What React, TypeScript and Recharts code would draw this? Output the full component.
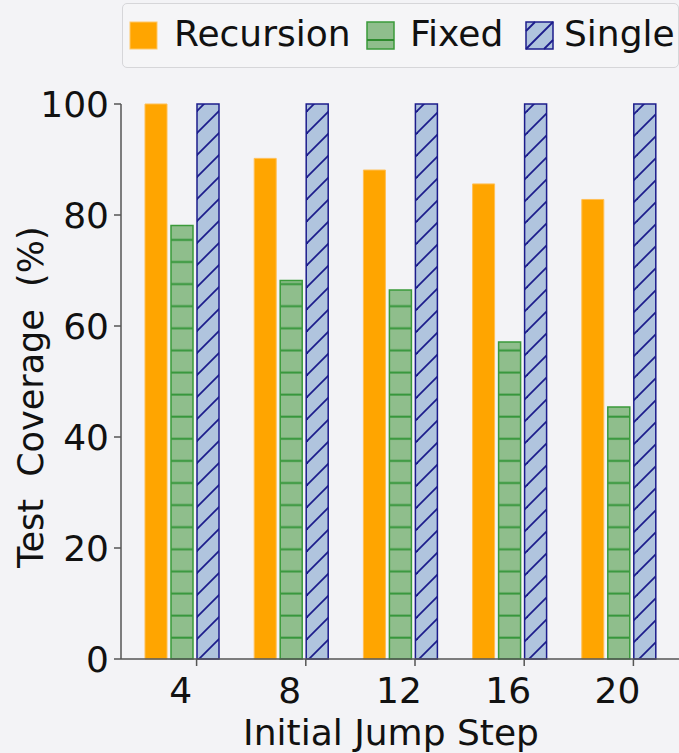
import { Bar, BarChart, XAxis, YAxis } from "recharts"

const steps = ["4", "8", "12", "16", "20"]
const recursion = [100, 90.2, 88.1, 85.6, 82.8]
const fixed = [78.1, 68.2, 66.5, 57.1, 45.4]
const single = [100, 100, 100, 100, 100]
const yTicks = [0, 20, 40, 60, 80, 100]

const data = steps.map((s, i) => ({
    step: s,
    Recursion: recursion[i],
    Fixed: fixed[i],
    Single: single[i],
}))

const font = "'DejaVu Sans', sans-serif"

function StepTick(props: any) {
    const { x, y, payload } = props
    return (
        <g>
            <line x1={x + 15} x2={x + 15} y1={y - 9} y2={y - 2} stroke="#555" strokeWidth={1.5} />
            <text x={x - 1} y={y} dy={35} textAnchor="middle" fontSize={36} fontFamily={font} fill="#111">
                {payload.value}
            </text>
        </g>
    )
}

function Swatch({ kind }: { kind: string }) {
    if (kind === "Recursion") {
        return (
            <svg width={29} height={29} style={{ display: "block" }}>
                <rect x={1} y={1} width={27} height={27} fill="#ffa500" stroke="#ffc766" />
            </svg>
        )
    }
    if (kind === "Fixed") {
        return (
            <svg width={29} height={29} style={{ display: "block" }}>
                <rect x={1} y={1} width={27} height={27} fill="#8fbe8c" stroke="#3a9a3a" strokeWidth={1.5} />
                <line x1={1} x2={28} y1={19} y2={19} stroke="#2e8b2e" strokeWidth={2} />
            </svg>
        )
    }
    return (
        <svg width={29} height={29} style={{ display: "block" }}>
            <rect x={1} y={1} width={27} height={27} fill="#b0c4de" stroke="#1c1c8c" strokeWidth={1.5} />
            <line x1={1} y1={28} x2={28} y2={1} stroke="#1c1c8c" strokeWidth={1.8} />
            <line x1={1} y1={10} x2={10} y2={1} stroke="#1c1c8c" strokeWidth={1.8} />
            <line x1={19} y1={28} x2={28} y2={19} stroke="#1c1c8c" strokeWidth={1.8} />
        </svg>
    )
}

const legendItems = [
    { name: "Recursion", swatchX: 129, textX: 174 },
    { name: "Fixed", swatchX: 366, textX: 410 },
    { name: "Single", swatchX: 525, textX: 564 },
]

export default function App() {
    return (
        <div style={{ position: "absolute", left: 0, top: 0, width: 679, height: 753, background: "#f3f3f6", fontFamily: font }}>
            <BarChart
                width={679}
                height={753}
                data={data}
                margin={{ top: 104, right: 0, bottom: 0, left: 0 }}
                barSize={22}
                barGap={4}
            >
                <defs>
                    <pattern id="hatchGreen" patternUnits="userSpaceOnUse" width={10} height={22.1}>
                        <rect width={10} height={22.1} fill="#8fbe8c" />
                        <line x1={0} x2={10} y1={18.9} y2={18.9} stroke="#35963a" strokeWidth={2} />
                    </pattern>
                    <pattern id="hatchBlue" patternUnits="userSpaceOnUse" width={22} height={22}>
                        <rect width={22} height={22} fill="#b0c4de" />
                        <line x1={0} y1={22} x2={22} y2={0} stroke="#1c1c8c" strokeWidth={1.8} />
                        <line x1={-2} y1={2} x2={2} y2={-2} stroke="#1c1c8c" strokeWidth={1.8} />
                        <line x1={20} y1={24} x2={24} y2={20} stroke="#1c1c8c" strokeWidth={1.8} />
                    </pattern>
                </defs>
                <XAxis
                    dataKey="step"
                    height={94}
                    padding={{ left: 6, right: 6 }}
                    axisLine={{ stroke: "#555", strokeWidth: 1.5 }}
                    tickLine={false}
                    tickSize={7}
                    tickMargin={2}
                    tick={<StepTick />}
                    interval={0}
                    label={{ value: "Initial Jump Step", position: "insideBottom", offset: 8, fontSize: 36, fill: "#111", fontFamily: font, dx: -9 }}
                />
                <YAxis
                    width={121}
                    domain={[0, 100]}
                    ticks={yTicks}
                    axisLine={{ stroke: "#555", strokeWidth: 1.5 }}
                    tickLine={{ stroke: "#555", strokeWidth: 1.5 }}
                    tickSize={7}
                    tickMargin={5}
                    tick={{ fontSize: 36, fill: "#111", fontFamily: font }}
                />
                <Bar dataKey="Recursion" fill="#ffa500" stroke="#ffbf55" strokeWidth={1} isAnimationActive={false} />
                <Bar dataKey="Fixed" fill="url(#hatchGreen)" stroke="#3a9a3a" strokeWidth={1.5} isAnimationActive={false} />
                <Bar dataKey="Single" fill="url(#hatchBlue)" stroke="#1c1c8c" strokeWidth={1.5} isAnimationActive={false} />
                <text
                    x={43}
                    y={568}
                    transform="rotate(-90 43 568)"
                    textAnchor="start"
                    fontSize={35}
                    fontFamily={font}
                    fill="#111"
                    style={{ whiteSpace: "pre" }}
                >
                    {"Test  Coverage  (%)"}
                </text>
            </BarChart>
            <div
                style={{
                    position: "absolute",
                    left: 122,
                    top: 3,
                    width: 557,
                    height: 65,
                    border: "1px solid #d6d6d9",
                    borderRadius: 5,
                    background: "#f5f5f7",
                    boxSizing: "border-box",
                    fontSize: 36,
                    color: "#111",
                }}
            >
                {legendItems.map((it) => (
                    <div key={it.name}>
                        <div style={{ position: "absolute", left: it.swatchX - 123, top: 17 }}>
                            <Swatch kind={it.name} />
                        </div>
                        <span style={{ position: "absolute", left: it.textX - 123, top: 8, lineHeight: "44px", whiteSpace: "nowrap" }}>
                            {it.name}
                        </span>
                    </div>
                ))}
            </div>
        </div>
    )
}
